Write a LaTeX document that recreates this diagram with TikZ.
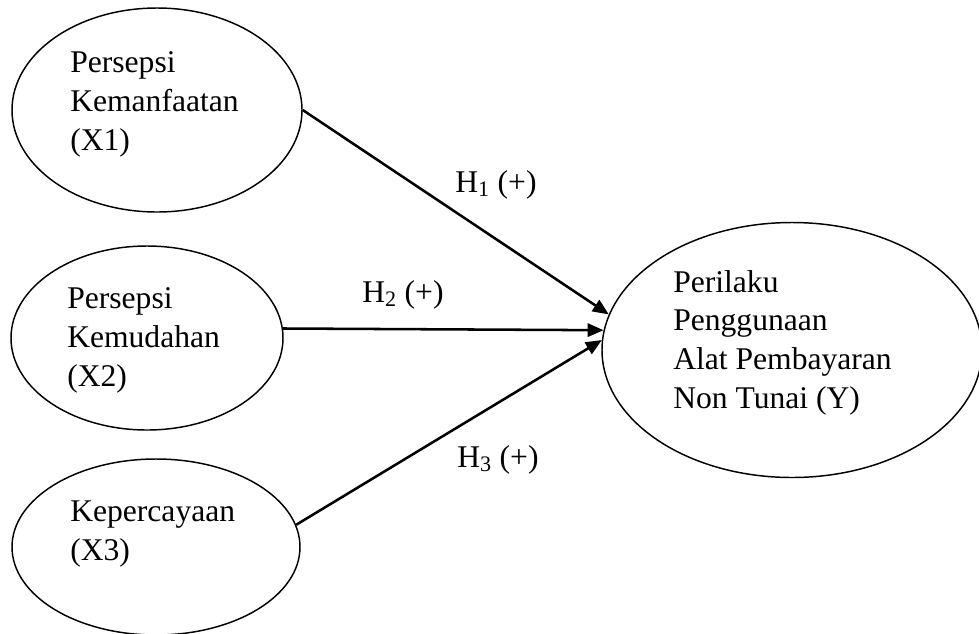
\documentclass[tikz,border=0pt]{standalone}
\usepackage{fontspec}
\setmainfont{Liberation Serif}
\usetikzlibrary{shapes.geometric,arrows.meta}

\begin{document}
\begin{tikzpicture}[x=0.75pt,y=-0.75pt,
  var/.style={draw,ellipse,line width=1.1pt,inner sep=0pt},
  txt/.style={anchor=base west,align=left,inner sep=0pt,font=\fontsize{23.7}{28.9}\selectfont},
  hyp/.style={line width=1.9pt,-{Triangle[length=12pt,width=10pt]}}]
\useasboundingbox (0,0) rectangle (979,633);
\node[var,minimum width=217.5pt,minimum height=153pt] (X1) at (157,110){};
\node[var,minimum width=204pt,minimum height=138pt] (X2) at (147,338){};
\node[var,minimum width=216pt,minimum height=132pt] (X3) at (156,547){};
\node[var,minimum width=285pt,minimum height=191.25pt] (Y) at (792,350){};
% text is placed by the baseline of its last line
\node[txt] (T1) at (70,150){Persepsi\\Kemanfaatan\\(X1)};
\node[txt] (T2) at (67,386){Persepsi\\Kemudahan\\(X2)};
\node[txt] (T3) at (70,560){Kepercayaan\\(X3)};
\node[txt] (TY) at (673,408){Perilaku\\Penggunaan\\Alat Pembayaran\\Non Tunai (Y)};
\node[txt] (H1) at (455,192){H\textsubscript{1} (+)};
\node[txt] (H2) at (362,302){H\textsubscript{2} (+)};
\node[txt] (H3) at (457,467){H\textsubscript{3} (+)};
\draw [hyp](X1.east) -- (Y.169.5);
\draw [hyp](X2.4) -- (Y.174);
\draw [hyp](X3.9) -- (Y.177.5);
\end{tikzpicture}
\end{document}
